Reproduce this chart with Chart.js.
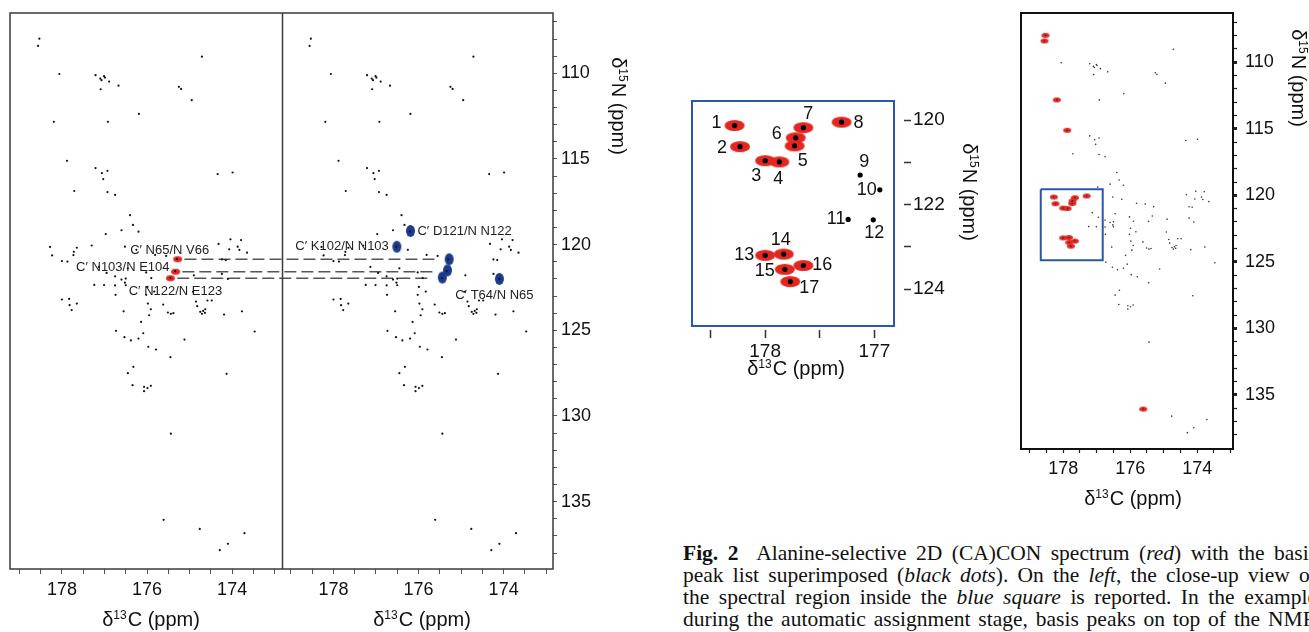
<!DOCTYPE html>
<html>
<head>
<meta charset="utf-8">
<script src="https://cdn.jsdelivr.net/npm/chart.js@4.4.1/dist/chart.umd.min.js"></script>
<style>
  html, body { margin: 0; padding: 0; background: #fff; width: 1309px; height: 632px; overflow: hidden; }
  .box { position: absolute; }
  #caption { position: absolute; left: 683px; top: 542px; font-family: 'Liberation Serif', 'Times New Roman', serif;
             font-size: 21.5px; line-height: 22px; color: #111; white-space: nowrap; }
  #caption div { width: 634px; text-align: justify; text-align-last: justify; }
</style>
</head>
<body>
<div class="box" style="left:0;top:0;width:640px;height:632px"><canvas id="pairChart" width="640" height="632"></canvas></div>
<div class="box" style="left:680px;top:90px;width:320px;height:300px"><canvas id="zoomChart" width="320" height="300"></canvas></div>
<div class="box" style="left:1000px;top:0;width:330px;height:520px"><canvas id="fullChart" width="330" height="520"></canvas></div>
<div id="caption">
  <div><b>Fig. 2</b>&nbsp; Alanine-selective 2D (CA)CON spectrum (<i>red</i>) with the basis</div>
  <div>peak list superimposed (<i>black dots</i>). On the <i>left</i>, the close-up view of</div>
  <div>the spectral region inside the <i>blue square</i> is reported. In the example</div>
  <div>during the automatic assignment stage, basis peaks on top of the NMR</div>
</div>
<script>
// basis peak list (black dots): 13C' and 15N shifts in ppm
const basisC = [
  178.53, 178.56, 174.71, 178.06, 177.21, 177.10, 177.01, 176.99, 177.07, 176.89,
  176.67, 177.09, 175.25, 175.20, 174.95, 176.19, 178.19, 176.92, 177.88, 177.21,
  176.93, 177.06, 177.03, 174.34, 173.99, 177.71, 176.93, 176.75, 176.40, 176.33,
  176.60, 176.20, 176.97, 176.52, 176.25, 175.81, 175.55, 175.30, 175.34, 175.45,
  174.32, 174.04, 173.79, 174.07, 173.87, 173.83, 173.65, 174.24, 174.15, 174.24,
  174.90, 174.10, 176.45, 176.02, 175.90, 176.75, 176.60, 176.50, 176.52, 176.75,
  176.50, 176.74, 175.99, 175.83, 176.02, 174.92, 176.55, 175.98, 175.91, 175.95,
  175.62, 175.51, 175.44, 175.38, 174.85, 174.82, 174.75, 174.71, 174.68, 174.63,
  174.64, 174.58, 174.48, 174.19, 173.77, 176.14, 176.73, 176.09, 176.53, 176.38,
  176.20, 175.12, 173.47, 175.97, 175.79, 175.45, 176.32, 176.45, 174.13, 176.34,
  176.07, 175.99, 175.91, 176.07, 175.44, 175.61, 174.76, 173.71, 174.10, 174.29
];
const basisN = [
  107.98, 108.40, 109.03, 110.04, 110.11, 110.31, 110.17, 110.25, 110.40, 110.48,
  110.72, 110.93, 110.79, 110.91, 111.57, 112.37, 112.83, 112.83, 115.11, 115.53,
  115.69, 115.82, 116.17, 115.88, 115.79, 116.87, 116.93, 117.10, 118.28, 118.85,
  119.16, 119.24, 119.38, 120.12, 120.30, 120.60, 120.66, 120.85, 121.55, 121.95,
  119.96, 119.69, 119.73, 120.27, 120.12, 120.31, 120.47, 120.86, 120.90, 121.71,
  121.79, 122.00, 121.38, 121.62, 121.95, 121.85, 122.04, 121.98, 122.22, 122.38,
  122.37, 122.93, 122.47, 122.74, 122.93, 122.75, 123.89, 123.44, 123.77, 124.12,
  123.50, 123.96, 124.04, 124.00, 123.32, 123.59, 123.92, 124.04, 123.87, 123.77,
  123.98, 123.26, 123.26, 124.08, 123.89, 124.51, 125.03, 125.17, 125.40, 125.59,
  125.48, 125.54, 125.07, 125.96, 126.12, 126.57, 127.13, 127.50, 127.54, 128.20,
  128.30, 128.37, 128.24, 128.55, 131.03, 136.06, 136.59, 136.84, 137.46, 137.83
];

// numbered peaks of the close-up (blue square)
const zoomLabels = ['1','2','3','4','5','6','7','8','9','10','11','12','13','14','15','16','17'];
const zoomC = [178.28, 178.23, 178.00, 177.87, 177.73, 177.72, 177.65, 177.30, 177.13, 176.95, 177.24, 177.01, 178.00, 177.83, 177.82, 177.65, 177.77];
const zoomN = [120.13, 120.63, 120.96, 120.99, 120.61, 120.42, 120.18, 120.05, 121.30, 121.65, 122.35, 122.36, 123.20, 123.17, 123.53, 123.44, 123.82];
const zoomAla = [1, 1, 1, 1, 1, 1, 1, 1, 0, 0, 0, 0, 1, 1, 1, 1, 1];

// alanine peaks outside the close-up region
const alaC = [178.53, 178.56, 178.19, 177.88, 175.61];
const alaN = [107.98, 108.40, 112.83, 115.11, 136.06];

// left figure: red peaks, blue peaks and their assignments
const redC = [175.28, 175.33, 175.45];
const redN = [120.85, 121.58, 121.96];
const redLabels = ['C\u2032 N65/N V66', 'C\u2032 N103/N E104', 'C\u2032 N122/N E123'];
const blueC = [176.19, 176.51, 175.28, 175.32, 175.44, 174.10];
const blueN = [119.20, 120.12, 120.85, 121.50, 121.92, 122.00];
const blueLabels = ['C\u2032 D121/N N122', 'C\u2032 K102/N N103', '', '', '', 'C\u2032 T64/N N65'];
const links = [[0, 2], [1, 3], [2, 4]];

// axis ticks
const cTicks = [179, 178.5, 178, 177.5, 177, 176.5, 176, 175.5, 175, 174.5, 174, 173.5, 173];
const cLabels = [178, 176, 174];
const nTicks = [107, 108, 109, 110, 111, 112, 113, 114, 115, 116, 117, 118, 119, 120, 121, 122,
                123, 124, 125, 126, 127, 128, 129, 130, 131, 132, 133, 134, 135, 136, 137, 138];
const nLabels = [110, 115, 120, 125, 130, 135];
const zoomCTicks = [178.5, 178, 177.5, 177];
const zoomCLabels = [178, 177];
const zoomNTicks = [120, 121, 122, 123, 124];
const zoomNLabels = [120, 122, 124];

// close-up range (also the blue square)
const ZOOM_C = [176.82, 178.67];
const ZOOM_N = [119.55, 124.87];

const FONT = "'Liberation Sans', Arial, Helvetica, sans-serif";
const RED = '#e3261f';
const BLUE = '#1c3b8c';
const SQUARE = '#2a57a6';
const SHIFT = 6.38;          // left sub-panel is drawn one panel width further
const PAIR_MIN = 172.84, PAIR_MAX = 179.22;

function blob(w, h, color) {
    const c = document.createElement('canvas');
    c.width = w + 2; c.height = h + 2;
    const g = c.getContext('2d');
    g.fillStyle = color;
    g.beginPath();
    g.ellipse(c.width / 2, c.height / 2, w / 2, h / 2, 0, 0, Math.PI * 2);
    g.fill();
    return c;
}

function pts(cs, ns, dx) {
    return cs.map((c, i) => ({ x: c + (dx || 0), y: ns[i] }));
}

function onTicks(list) {
    return s => { s.ticks = list.map(v => ({ value: v })); };
}

// fixed axis box, no extra label padding pushed into the plot area
function fixX(h) {
    return s => { s.height = h; s.paddingLeft = 0; s.paddingRight = 0; };
}
function fixY(w) {
    return s => { s.width = w; s.paddingTop = 0; s.paddingBottom = 0; };
}

function drawAxisTitle(ctx, t) {
    ctx.save();
    ctx.translate(t.x, t.y);
    if (t.vertical) ctx.rotate(Math.PI / 2);
    const big = t.size + 'px ' + FONT;
    const small = Math.round(t.size * 0.6) + 'px ' + FONT;
    ctx.font = big;
    const wd = ctx.measureText('\u03b4').width;
    const wm = ctx.measureText(t.main).width;
    ctx.font = small;
    const ws = ctx.measureText(t.sup).width;
    const x0 = -(wd + ws + wm + 1) / 2;
    const base = t.size * 0.36;
    ctx.fillStyle = '#111';
    ctx.textAlign = 'left';
    ctx.textBaseline = 'alphabetic';
    ctx.font = big;
    ctx.fillText('\u03b4', x0, base);
    ctx.font = small;
    ctx.fillText(t.sup, x0 + wd, base - t.size * 0.36);
    ctx.font = big;
    ctx.fillText(t.main, x0 + wd + ws + 1, base);
    ctx.restore();
}

// frame round the plot area, optional divider, titles
const framePlugin = {
    id: 'frame',
    afterDatasetsDraw(chart, args, opts) {
        const { ctx, chartArea: a } = chart;
        ctx.save();
        ctx.strokeStyle = opts.color;
        ctx.lineWidth = opts.width;
        ctx.strokeRect(a.left, a.top, a.right - a.left, a.bottom - a.top);
        if (opts.divider) {
            const x = Math.round(chart.scales.x.getPixelForValue(opts.divider)) + 0.5;
            ctx.beginPath();
            ctx.moveTo(x, a.top);
            ctx.lineTo(x, a.bottom);
            ctx.stroke();
        }
        ctx.restore();
        (opts.titles || []).forEach(t => drawAxisTitle(ctx, t));
    }
};

// assignment labels on the left figure
const pairLabelStyle = {
    red: [[-8, -9, 'center'], [-6, -4, 'right'], [5, 13, 'center']],
    blue: [[7, 0, 'left'], [-8, 0, 'right'], null, null, null, [-5, 17, 'center']]
};
const pairLabelPlugin = {
    id: 'pairLabels',
    afterDatasetsDraw(chart) {
        const { ctx, scales: { x, y } } = chart;
        ctx.save();
        ctx.font = '13px ' + FONT;
        ctx.fillStyle = '#222';
        ctx.textBaseline = 'middle';
        redLabels.forEach((t, i) => {
            const s = pairLabelStyle.red[i];
            ctx.textAlign = s[2];
            ctx.fillText(t, x.getPixelForValue(redC[i] + SHIFT) + s[0], y.getPixelForValue(redN[i]) + s[1]);
        });
        blueLabels.forEach((t, i) => {
            const s = pairLabelStyle.blue[i];
            if (!t || !s) return;
            ctx.textAlign = s[2];
            ctx.fillText(t, x.getPixelForValue(blueC[i]) + s[0], y.getPixelForValue(blueN[i]) + s[1]);
        });
        ctx.restore();
    }
};

// number labels in the close-up
const zoomLabelOffset = [[-18, -2], [-18, 1], [-9, 15], [-1, 17], [8, 15], [-19, -4], [5, -14], [17, 1], [4, -13],
                         [-13, 0], [-12, 0], [1, 13], [-21, 0], [-3, -14], [-20, 2], [19, 0], [19, 6]];
const zoomLabelPlugin = {
    id: 'zoomLabels',
    afterDatasetsDraw(chart) {
        const { ctx, scales: { x, y } } = chart;
        ctx.save();
        ctx.font = '18px ' + FONT;
        ctx.fillStyle = '#111';
        ctx.textAlign = 'center';
        ctx.textBaseline = 'middle';
        zoomLabels.forEach((t, i) => {
            const o = zoomLabelOffset[i];
            ctx.fillText(t, x.getPixelForValue(zoomC[i]) + o[0], y.getPixelForValue(zoomN[i]) + o[1]);
        });
        ctx.restore();
    }
};

const allC = basisC.concat(zoomC);
const allN = basisN.concat(zoomN);
const alaAllC = zoomC.filter((c, i) => zoomAla[i]).concat(alaC);
const alaAllN = zoomN.filter((n, i) => zoomAla[i]).concat(alaN);

const baseOptions = {
    animation: false,
    responsive: false,
    events: [],
    plugins: { legend: { display: false }, tooltip: { enabled: false } }
};

function tickFont(size) {
    return { family: FONT, size: size };
}

// ---------- left figure: two sub-panels joined by dashed lines ----------
const pairTicks = cTicks.map(c => c + SHIFT).concat(cTicks);

new Chart(document.getElementById('pairChart'), {
    type: 'scatter',
    data: {
        datasets: [
            { data: pts(redC, redN, SHIFT), pointStyle: blob(9, 6, RED), pointRadius: 4, order: 3 },
            { data: pts(blueC, blueN), pointStyle: blob(9, 12, BLUE), pointRadius: 4, order: 3 },
            { data: pts(allC, allN, SHIFT), pointRadius: 1.1, pointBorderWidth: 0,
              pointBackgroundColor: '#111', backgroundColor: '#111', order: 1 },
            { data: pts(allC, allN), pointRadius: 1.1, pointBorderWidth: 0,
              pointBackgroundColor: '#111', backgroundColor: '#111', order: 1 }
        ].concat(links.map(([r, b]) => ({
            data: [{ x: redC[r] + SHIFT - 0.16, y: redN[r] }, { x: blueC[b] + 0.32, y: redN[r] }],
            showLine: true, borderColor: '#555', borderWidth: 1.6, borderDash: [12, 5],
            pointRadius: 0, order: 2
        })))
    },
    options: Object.assign({}, baseOptions, {
        layout: { padding: { left: 10, top: 13, right: 0, bottom: 0 } },
        scales: {
            x: {
                type: 'linear', min: PAIR_MIN, max: PAIR_MAX + SHIFT, reverse: true,
                border: { display: false },
                grid: { drawOnChartArea: false, tickLength: 5, tickColor: '#555', tickWidth: 1 },
                ticks: {
                    autoSkip: false, maxRotation: 0, padding: 5, color: '#111', font: tickFont(18),
                    callback: v => {
                        const c = Math.round((v > PAIR_MAX ? v - SHIFT : v) * 2) / 2;
                        return cLabels.includes(c) ? String(c) : '';
                    }
                },
                afterBuildTicks: onTicks(pairTicks),
                afterFit: fixX(63)
            },
            y: {
                type: 'linear', position: 'right', min: 106.48, max: 138.93, reverse: true,
                border: { display: false },
                grid: { drawOnChartArea: false, tickLength: 4, tickColor: '#555', tickWidth: 1 },
                ticks: {
                    autoSkip: false, padding: 4, color: '#111', font: tickFont(18),
                    callback: v => nLabels.includes(v) ? String(v) : ''
                },
                afterBuildTicks: onTicks(nTicks),
                afterFit: fixY(87)
            }
        },
        plugins: Object.assign({}, baseOptions.plugins, {
            frame: {
                color: '#3a3a3a', width: 1.5, divider: PAIR_MAX,
                titles: [
                    { x: 151, y: 619, sup: '13', main: 'C (ppm)', size: 20 },
                    { x: 422, y: 619, sup: '13', main: 'C (ppm)', size: 20 },
                    { x: 619, y: 106, sup: '15', main: 'N (ppm)', size: 20, vertical: true }
                ]
            }
        })
    }),
    plugins: [framePlugin, pairLabelPlugin]
});

// ---------- close-up of the blue square ----------
new Chart(document.getElementById('zoomChart'), {
    type: 'scatter',
    data: {
        datasets: [
            { data: pts(zoomC.filter((c, i) => zoomAla[i]), zoomN.filter((n, i) => zoomAla[i])),
              pointStyle: blob(20, 11, RED), pointRadius: 5, order: 2 },
            { data: pts(allC, allN), pointRadius: 2.6, pointBorderWidth: 0,
              pointBackgroundColor: '#000', backgroundColor: '#000', order: 1 }
        ]
    },
    options: Object.assign({}, baseOptions, {
        layout: { padding: { left: 12, top: 11, right: 0, bottom: 0 } },
        scales: {
            x: {
                type: 'linear', min: ZOOM_C[0], max: ZOOM_C[1], reverse: true,
                border: { display: false },
                grid: { drawOnChartArea: false, tickLength: 12, tickColor: '#333', tickWidth: 1.5,
                        tickBorderDash: [0, 4, 8, 100] },
                ticks: {
                    autoSkip: false, maxRotation: 0, padding: 2, color: '#111', font: tickFont(19),
                    callback: v => zoomCLabels.includes(v) ? String(v) : ''
                },
                afterBuildTicks: onTicks(zoomCTicks),
                afterFit: fixX(64)
            },
            y: {
                type: 'linear', position: 'right', min: ZOOM_N[0], max: ZOOM_N[1], reverse: true,
                border: { display: false },
                grid: { drawOnChartArea: false, tickLength: 17, tickColor: '#333', tickWidth: 1.5,
                        tickBorderDash: [0, 10, 7, 100] },
                ticks: {
                    autoSkip: false, padding: 2, color: '#111', font: tickFont(19),
                    callback: v => zoomNLabels.includes(v) ? String(v) : ''
                },
                afterBuildTicks: onTicks(zoomNTicks),
                afterFit: fixY(106)
            }
        },
        plugins: Object.assign({}, baseOptions.plugins, {
            frame: {
                color: SQUARE, width: 2,
                titles: [
                    { x: 116, y: 278, sup: '13', main: 'C (ppm)', size: 20 },
                    { x: 290, y: 102, sup: '15', main: 'N (ppm)', size: 20, vertical: true }
                ]
            }
        })
    }),
    plugins: [framePlugin, zoomLabelPlugin]
});

// ---------- full spectrum ----------
new Chart(document.getElementById('fullChart'), {
    type: 'scatter',
    data: {
        datasets: [
            { data: pts(alaAllC, alaAllN), pointStyle: blob(8, 5, RED), pointRadius: 3, order: 3 },
            { data: pts(allC, allN), pointRadius: 0.8, pointBorderWidth: 0,
              pointBackgroundColor: '#333', backgroundColor: '#333', order: 1 },
            { data: [{ x: ZOOM_C[1], y: ZOOM_N[0] }, { x: ZOOM_C[0], y: ZOOM_N[0] }, { x: ZOOM_C[0], y: ZOOM_N[1] },
                     { x: ZOOM_C[1], y: ZOOM_N[1] }, { x: ZOOM_C[1], y: ZOOM_N[0] }],
              showLine: true, borderColor: SQUARE, borderWidth: 2, pointRadius: 0, order: 2 }
        ]
    },
    options: Object.assign({}, baseOptions, {
        layout: { padding: { left: 21, top: 13, right: 0, bottom: 0 } },
        scales: {
            x: {
                type: 'linear', min: 172.93, max: 179.26, reverse: true,
                border: { display: false },
                grid: { drawOnChartArea: false, tickLength: 4, tickColor: '#222', tickWidth: 1.2 },
                ticks: {
                    autoSkip: false, maxRotation: 0, padding: 5, color: '#111', font: tickFont(18),
                    callback: v => cLabels.includes(v) ? String(v) : ''
                },
                afterBuildTicks: onTicks(cTicks),
                afterFit: fixX(71)
            },
            y: {
                type: 'linear', position: 'right', min: 106.3, max: 139.06, reverse: true,
                border: { display: false },
                grid: {
                    drawOnChartArea: false, tickLength: 4, tickColor: '#222',
                    tickWidth: c => (c.tick && nLabels.includes(c.tick.value)) ? 3 : 1.2
                },
                ticks: {
                    autoSkip: false, padding: 8, color: '#111', font: tickFont(18),
                    callback: v => nLabels.includes(v) ? String(v) : ''
                },
                afterBuildTicks: onTicks(nTicks),
                afterFit: fixY(97)
            }
        },
        plugins: Object.assign({}, baseOptions.plugins, {
            frame: {
                color: '#111', width: 2,
                titles: [
                    { x: 133, y: 498, sup: '13', main: 'C (ppm)', size: 20 },
                    { x: 299, y: 78, sup: '15', main: 'N (ppm)', size: 20, vertical: true }
                ]
            }
        })
    }),
    plugins: [framePlugin]
});
</script>
</body>
</html>
